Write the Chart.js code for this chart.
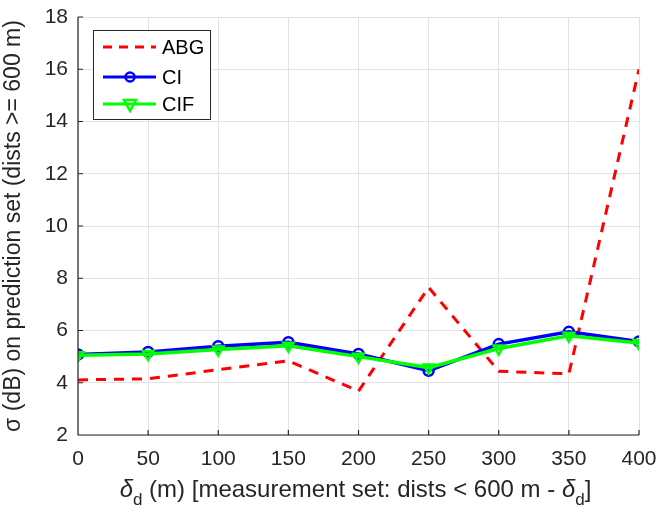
<!DOCTYPE html>
<html><head><meta charset="utf-8">
<script src="https://cdn.jsdelivr.net/npm/chart.js@4/dist/chart.umd.min.js"></script>
<style>html,body{margin:0;padding:0;background:#fff}#wrap{width:671px;height:516px}</style>
</head><body><div id="wrap"><canvas id="c" width="671" height="516"></canvas></div>
<script>
const deltas = [0, 50, 100, 150, 200, 250, 300, 350, 400];
const abg = [4.11, 4.15, 4.5, 4.84, 3.68, 7.65, 4.44, 4.34, 16.0];
const ci  = [5.08, 5.18, 5.4, 5.55, 5.1, 4.46, 5.48, 5.95, 5.58];
const cif = [5.05, 5.1, 5.27, 5.42, 5.0, 4.58, 5.31, 5.8, 5.52];
const yTicks = [2, 4, 6, 8, 10, 12, 14, 16, 18];
const seriesNames = ['ABG', 'CI', 'CIF'];

const FONT = '"Liberation Sans", Arial, Helvetica, sans-serif';

const decor = {
  id: 'decor',
  afterDraw(chart) {
    const ctx = chart.ctx, a = chart.chartArea;
    const xs = chart.scales.x, ys = chart.scales.y;
    ctx.save();
    // axes lines and inward ticks
    ctx.strokeStyle = '#262626'; ctx.lineWidth = 1.2;
    ctx.beginPath();
    ctx.moveTo(a.left, a.top); ctx.lineTo(a.left, a.bottom); ctx.lineTo(a.right, a.bottom);
    deltas.forEach(v => { const px = xs.getPixelForValue(v); ctx.moveTo(px, a.bottom); ctx.lineTo(px, a.bottom - 5); });
    yTicks.forEach(v => { const py = ys.getPixelForValue(v); ctx.moveTo(a.left, py); ctx.lineTo(a.left + 5, py); });
    ctx.stroke();
    // x title with subscripts
    ctx.fillStyle = '#262626';
    ctx.textBaseline = 'alphabetic';
    const parts = [
      ['δ', 'italic 24px ' + FONT, 0],
      ['d', '17px ' + FONT, 8],
      [' (m) [measurement set: dists < 600 m - ', '24px ' + FONT, 0],
      ['δ', 'italic 24px ' + FONT, 0],
      ['d', '17px ' + FONT, 8],
      [']', '24px ' + FONT, 0]
    ];
    let w = 0;
    parts.forEach(p => { ctx.font = p[1]; w += ctx.measureText(p[0]).width; });
    let x = (a.left + a.right) / 2 - w / 2 - 3;
    const base = 497;
    parts.forEach(p => { ctx.font = p[1]; ctx.fillText(p[0], x, base + p[2]); x += ctx.measureText(p[0]).width; });
    // legend box
    const lx = 93, ly = 30, lw = 117, lh = 89;
    ctx.fillStyle = '#fff'; ctx.fillRect(lx, ly, lw, lh);
    ctx.strokeStyle = '#262626'; ctx.lineWidth = 1; ctx.strokeRect(lx + 0.5, ly + 0.5, lw, lh);
    const rows = [ly + 17, ly + 47, ly + 74];
    ctx.font = '20px ' + FONT; ctx.textBaseline = 'middle'; ctx.fillStyle = '#000';
    // ABG
    ctx.strokeStyle = '#ff0000'; ctx.lineWidth = 3; ctx.setLineDash([9, 7]);
    ctx.beginPath(); ctx.moveTo(lx + 10, rows[0]); ctx.lineTo(lx + 63, rows[0]); ctx.stroke();
    ctx.setLineDash([]);
    // CI
    ctx.strokeStyle = '#0000ff';
    ctx.beginPath(); ctx.moveTo(lx + 10, rows[1]); ctx.lineTo(lx + 63, rows[1]); ctx.stroke();
    ctx.lineWidth = 2.5; ctx.beginPath(); ctx.arc(lx + 37, rows[1], 4.5, 0, Math.PI * 2); ctx.stroke();
    // CIF
    ctx.strokeStyle = '#00ff00'; ctx.lineWidth = 3;
    ctx.beginPath(); ctx.moveTo(lx + 10, rows[2]); ctx.lineTo(lx + 63, rows[2]); ctx.stroke();
    ctx.lineWidth = 2.5;
    ctx.beginPath(); ctx.moveTo(lx + 31, rows[2] - 4); ctx.lineTo(lx + 43, rows[2] - 4); ctx.lineTo(lx + 37, rows[2] + 7); ctx.closePath(); ctx.stroke();
    ctx.fillStyle = '#000';
    seriesNames.forEach((n, i) => ctx.fillText(n, lx + 69, rows[i] + 1));
    ctx.restore();
  }
};

new Chart(document.getElementById('c'), {
  type: 'line',
  data: {
    datasets: [
      { label: seriesNames[0], data: deltas.map((d, i) => ({x: d, y: abg[i]})), borderColor: '#ff0000', borderWidth: 3, borderDash: [10, 8], pointRadius: 0, order: 3 },
      { label: seriesNames[1], data: deltas.map((d, i) => ({x: d, y: ci[i]})), borderColor: '#0000ff', borderWidth: 3.5, pointStyle: 'circle', pointRadius: 5, pointBorderWidth: 2.5, pointBorderColor: '#0000ff', pointBackgroundColor: 'rgba(0,0,0,0)', order: 2 },
      { label: seriesNames[2], data: deltas.map((d, i) => ({x: d, y: cif[i]})), borderColor: '#00ff00', borderWidth: 3.5, pointStyle: 'triangle', rotation: 180, pointRadius: 6, pointBorderWidth: 2.5, pointBorderColor: '#00ff00', pointBackgroundColor: 'rgba(0,0,0,0)', order: 1 }
    ]
  },
  options: {
    responsive: false, animation: false,
    layout: { padding: { left: 0, right: 32, top: 17, bottom: 0 } },
    plugins: { legend: { display: false }, tooltip: { enabled: false } },
    scales: {
      x: {
        type: 'linear', min: 0, max: 400,
        afterBuildTicks: s => { s.ticks = deltas.map(v => ({value: v})); },
        grid: { color: '#e3e3e3', lineWidth: 1, drawTicks: false },
        border: { display: false },
        ticks: { color: '#262626', font: { family: FONT, size: 21 }, padding: 12, maxRotation: 0 },
        afterFit: s => { s.height = 81; s.paddingLeft = 0; s.paddingRight = 0; }
      },
      y: {
        type: 'linear', min: 2, max: 18,
        afterBuildTicks: s => { s.ticks = yTicks.map(v => ({value: v})); },
        grid: { color: '#e3e3e3', lineWidth: 1, drawTicks: false },
        border: { display: false },
        ticks: { color: '#262626', font: { family: FONT, size: 21 }, padding: 10 },
        title: { display: true, text: 'σ (dB) on prediction set (dists >= 600 m)', color: '#262626', font: { family: FONT, size: 23 }, padding: { top: 0, bottom: 4 } },
        afterFit: s => { s.width = 78; s.paddingTop = 0; s.paddingBottom = 0; }
      }
    }
  },
  plugins: [decor]
});
</script></body></html>
